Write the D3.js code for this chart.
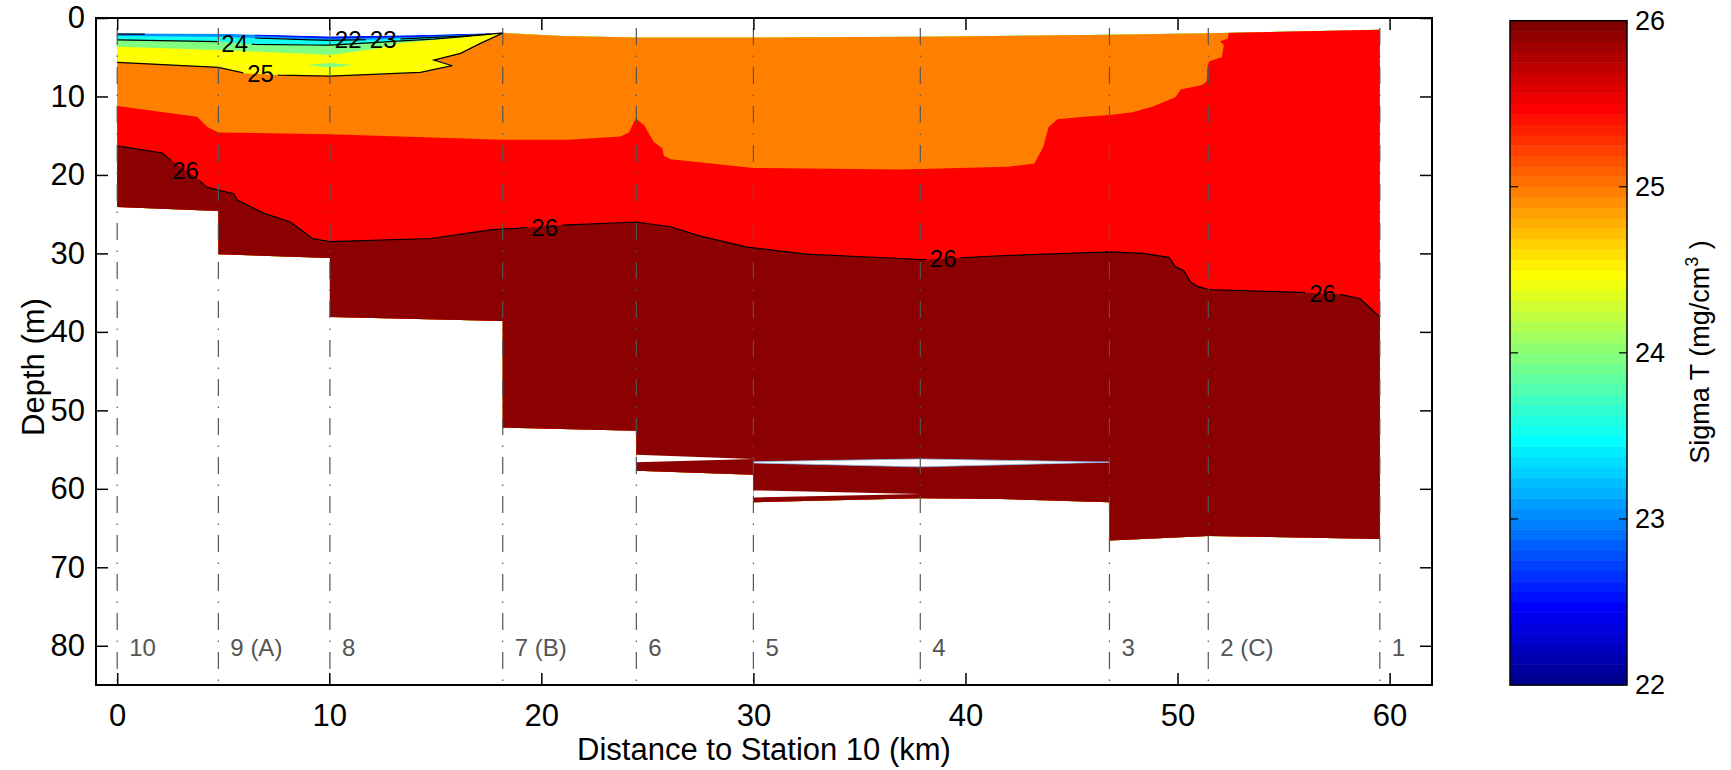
<!DOCTYPE html>
<html><head><meta charset="utf-8">
<script src="https://cdn.jsdelivr.net/npm/d3@7"></script>
<style>
body{margin:0;background:#fff;}
svg{display:block;}
text{font-family:"Liberation Sans",Arial,Helvetica,sans-serif;}
</style>
</head><body>
<svg id="c" width="1731" height="770"></svg>
<script>
// ---------------- DATA ----------------
const stationKm    = [0, 4.77, 10.03, 18.18, 24.48, 30.0, 37.87, 46.79, 51.45, 59.54];
const stationNames = ["10", "9 (A)", "8", "7 (B)", "6", "5", "4", "3", "2 (C)", "1"];
const xTicks  = [0, 10, 20, 30, 40, 50, 60];
const yTicks  = [0, 10, 20, 30, 40, 50, 60, 70, 80];
const cbTicks = [22, 23, 24, 25, 26];

// sea surface (top of data), left -> right  [km, depth m]
const surfaceTop = [[0,1.95],[4.77,2.0],[10.03,2.35],[14,2.2],[18.18,1.9],[21,2.3],[24.48,2.5],[30,2.5],[37.87,2.4],[46.79,2.15],[51.45,1.95],[59.54,1.5]];
// deepest sample per station (bottom of data), right -> left
const seabed = [[59.54,66.4],[51.45,66.0],[46.79,66.6],[46.79,61.7],[41.67,61.3],[37.87,61.2],[30,61.7],[30,58.2],[24.48,57.7],[24.48,52.6],[18.18,52.2],[18.18,38.6],[10.03,38.1],[10.03,30.6],[4.77,30.1],[4.77,24.6],[0,24.1]];

// isopycnals (sigma-T boundaries)
const iso235 = [[0,2.3],[4.77,2.4],[9.12,2.75],[10.03,2.85],[12.3,2.75],[13.2,2.6],[14.9,2.45],[16.2,2.3],[18.2,1.9]];
const iso24  = [[0,2.8],[4.77,3.0],[6.45,3.36],[9.12,3.44],[10.03,3.45],[12.3,3.1],[13.2,2.95],[14.9,2.7],[16.2,2.4],[18.2,1.9]];
const iso245 = [[0,3.66],[4.77,4.08],[9.12,4.6],[10.03,4.72],[12.3,3.9],[13.2,3.25],[14.9,2.8],[16.2,2.45],[18.2,1.9]];
const iso25  = [[0,5.65],[4.77,6.29],[6.05,7.06],[7.62,7.27],[10.03,7.4],[14.3,6.93],[15.8,6.08],[14.93,5.36],[16.19,4.5],[17.13,3.23],[18.2,1.9]];
const iso255 = [[0,11.2],[3.77,12.6],[4.25,13.9],[4.77,14.6],[10.03,14.8],[18.18,15.5],[21.3,15.5],[23.74,15.1],[24.13,14.6],[24.45,12.8],[24.84,13.65],[25.3,15.8],[25.7,16.6],[25.78,17.6],[26.1,18.0],[30,19.1],[36.95,19.3],[37.87,19.25],[41.98,18.96],[43.25,18.54],[43.67,16.4],[43.92,13.9],[44.34,12.9],[45.6,12.6],[46.79,12.37],[47.88,12.0],[48.8,11.3],[49.9,10.1],[50.15,9.1],[51.16,8.55],[51.37,8.1],[51.42,6.0],[51.5,5.5],[52.09,5.0],[52.18,3.44],[52.0,3.0],[52.37,2.6],[52.42,1.8]];
const iso26  = [[0,16.3],[2.12,17.2],[2.51,18.1],[3.77,20.4],[4.17,21.5],[4.72,21.9],[5.5,22.4],[5.66,23.2],[6.92,24.9],[8.17,26.0],[9.2,28.1],[10.03,28.5],[14.78,28.1],[17.6,27.0],[19.4,26.7],[21.0,26.4],[24.48,26.0],[26.1,26.6],[27.36,27.7],[29.7,29.2],[32.5,30.1],[36.95,30.65],[37.9,30.8],[41.67,30.3],[46.79,29.8],[48.4,30.0],[49.6,30.5],[49.9,31.7],[50.3,32.2],[50.6,33.6],[50.94,34.2],[51.45,34.6],[56.1,35.0],[57.7,35.25],[58.6,35.75],[59.54,38.1]];
const line23  = [[6.5,2.55],[9.12,2.78],[10.03,2.85],[13.2,2.68],[16.2,2.3],[17.6,2.05]];
const line22  = [[0,2.05],[1.3,2.05]];
const sliver225 = [[6.5,2.1],[10.03,2.35],[14,2.2],[17.5,1.95],[17.5,2.02],[14,2.42],[10.03,2.6],[6.5,2.25]];
const patch24   = [[8.96,6.0],[10.03,5.75],[11.16,6.0],[10.03,6.3]];
// no-data slivers between interpolated casts
const gapA = [[24.48,55.65],[30,56.2],[24.48,56.6]];
const gapB = [[30,56.55],[37.87,56.2],[46.79,56.6],[37.87,57.2],[30,56.7]];
const gapC = [[30,60.2],[37.87,60.65],[30,61.1]];

const contourLabelText  = ["24", "25", "22", "23", "26", "26", "26", "26"];
const contourLabelKm    = [5.54, 6.76, 10.89, 12.54, 3.22, 20.16, 38.95, 56.84];
const contourLabelDepth = [3.3, 7.1, 2.7, 2.7, 19.4, 26.7, 30.6, 35.1];

// fill colours per sigma-T band (MATLAB jet levels)
const bandColor = {b225:"#0010ff", b23:"#008fff", b235:"#10ffef", b24:"#80ff80", b245:"#ffff00", b25:"#ff8000", b255:"#ff0000", b26:"#8b0000"};

// ---------------- DRAW ----------------
const svg = d3.select("#c");
const W = 1731, H = 770;
const x = d3.scaleLinear().domain([-1, 62]).range([96, 1432]);
const y = d3.scaleLinear().domain([0, 85]).range([18, 685]);
const line = d3.line().x(d => x(d[0])).y(d => y(d[1]));
const defs = svg.append("defs");

const outline = surfaceTop.concat(seabed);
defs.append("clipPath").attr("id", "dataClip").append("path").attr("d", line(outline) + "Z");

function below(pts) {
  const first = pts[0], last = pts[pts.length - 1];
  const endD = last[1] < 6 ? -1 : last[1];
  return pts.concat([[62, endD], [62, 90], [-1, 90], [-1, first[1]]]);
}

const fills = svg.append("g").attr("clip-path", "url(#dataClip)");
fills.append("path").attr("d", line(outline) + "Z").attr("fill", bandColor.b23);
fills.append("path").attr("d", line(sliver225) + "Z").attr("fill", bandColor.b225);
const layerDefs = [[iso235, bandColor.b235], [iso24, bandColor.b24], [iso245, bandColor.b245]];
layerDefs.forEach(([p, c]) => fills.append("path").attr("d", line(below(p)) + "Z").attr("fill", c));
fills.append("path").attr("d", line(patch24) + "Z").attr("fill", bandColor.b24);
[[iso25, bandColor.b25], [iso255, bandColor.b255], [iso26, bandColor.b26]]
  .forEach(([p, c]) => fills.append("path").attr("d", line(below(p)) + "Z").attr("fill", c));

// gaps
[gapA, gapC].forEach(g => svg.append("path").attr("d", line(g) + "Z").attr("fill", "#fff"));
svg.append("path").attr("d", line(gapB) + "Z").attr("fill", "#fff").attr("stroke", "#8cc4ff").attr("stroke-width", 0.8);

// contour lines with label breaks
const labelFont = 24;
const contourSets = [["22", [line22]], ["23", [line23]], ["24", [iso24]], ["25", [iso25]], ["26", [iso26]]];
contourSets.forEach(([lev, arr]) => {
  const m = defs.append("mask").attr("id", "m" + lev).attr("maskUnits", "userSpaceOnUse")
    .attr("x", 0).attr("y", 0).attr("width", W).attr("height", H);
  m.append("rect").attr("width", W).attr("height", H).attr("fill", "#fff");
  contourLabelText.forEach((t, i) => {
    if (t !== lev) return;
    const w = t.length * 0.556 * labelFont + 8;
    m.append("rect").attr("x", x(contourLabelKm[i]) - w / 2).attr("y", y(contourLabelDepth[i]) - 10)
      .attr("width", w).attr("height", 20).attr("fill", "#000");
  });
  arr.forEach(p => svg.append("path").attr("d", line(p)).attr("fill", "none")
    .attr("stroke", "#000").attr("stroke-width", 1.2).attr("mask", "url(#m" + lev + ")"));
});
svg.append("g").selectAll("text").data(contourLabelText).join("text")
  .attr("x", (d, i) => x(contourLabelKm[i])).attr("y", (d, i) => y(contourLabelDepth[i]))
  .attr("dy", "0.35em").attr("text-anchor", "middle").attr("font-size", labelFont).attr("fill", "#000")
  .text(d => d);

// station lines + labels
svg.append("g").selectAll("line").data(stationKm).join("line")
  .attr("x1", d => x(d)).attr("x2", d => x(d)).attr("y1", y(0)).attr("y2", y(85))
  .attr("stroke", "#555").attr("stroke-width", 1.2)
  .attr("stroke-dasharray", "17,10.5,1.5,10").attr("stroke-dashoffset", 29);
svg.append("g").selectAll("text").data(stationNames).join("text")
  .attr("x", (d, i) => x(stationKm[i]) + 12).attr("y", y(80.2)).attr("dy", "0.35em")
  .attr("font-size", 24).attr("fill", "#555").text(d => d);

// axes
const tickFont = 31;
const gx = svg.append("g").attr("transform", `translate(0,${y(85)})`)
  .call(d3.axisBottom(x).tickValues(xTicks).tickSizeInner(-12).tickSizeOuter(0).tickPadding(19));
const gxt = svg.append("g").attr("transform", `translate(0,${y(0)})`)
  .call(d3.axisTop(x).tickValues(xTicks).tickSizeInner(-12).tickSizeOuter(0).tickFormat(""));
const gy = svg.append("g").attr("transform", `translate(${x(-1)},0)`)
  .call(d3.axisLeft(y).tickValues(yTicks).tickSizeInner(-12).tickSizeOuter(0).tickPadding(11));
const gyr = svg.append("g").attr("transform", `translate(${x(62)},0)`)
  .call(d3.axisRight(y).tickValues(yTicks).tickSizeInner(-12).tickSizeOuter(0).tickFormat(""));
[gx, gxt, gy, gyr].forEach(g => {
  g.select(".domain").remove();
  g.selectAll(".tick line").attr("stroke", "#000").attr("stroke-width", 1.5);
  g.selectAll("text").attr("font-size", tickFont).attr("fill", "#000")
    .attr("font-family", '"Liberation Sans",Arial,sans-serif');
});
svg.append("rect").attr("x", x(-1)).attr("y", y(0)).attr("width", x(62) - x(-1)).attr("height", y(85) - y(0))
  .attr("fill", "none").attr("stroke", "#000").attr("stroke-width", 2);

svg.append("text").attr("x", (x(-1) + x(62)) / 2 + 0).attr("y", 760).attr("text-anchor", "middle")
  .attr("font-size", 31).text("Distance to Station 10 (km)");
svg.append("text").attr("transform", "translate(33,367) rotate(-90)").attr("dy", "0.35em")
  .attr("text-anchor", "middle").attr("font-size", 31).text("Depth (m)");

// colorbar
const cbX = 1510, cbW = 117;
const cbY = d3.scaleLinear().domain([22, 26]).range([685, 20.7]);
const jet = d3.scaleLinear().domain([0, 7, 23, 39, 55, 63])
  .range(["#00008f", "#0000ff", "#00ffff", "#ffff00", "#ff0000", "#800000"]);
const steps = d3.range(64);
svg.append("g").selectAll("rect").data(steps).join("rect")
  .attr("x", cbX).attr("width", cbW)
  .attr("y", i => cbY(22 + 4 * (i + 1) / 64)).attr("height", i => cbY(22 + 4 * i / 64) - cbY(22 + 4 * (i + 1) / 64) + 0.5)
  .attr("fill", i => jet(i));
svg.append("rect").attr("x", cbX).attr("y", cbY(26)).attr("width", cbW).attr("height", cbY(22) - cbY(26))
  .attr("fill", "none").attr("stroke", "#000").attr("stroke-width", 1.5);
const gcb = svg.append("g").attr("transform", `translate(${cbX + cbW},0)`)
  .call(d3.axisRight(cbY).tickValues(cbTicks).tickFormat(d3.format("d")).tickSize(0).tickPadding(8));
gcb.select(".domain").remove();
gcb.selectAll("text").attr("font-size", 27).attr("fill", "#000").attr("font-family", '"Liberation Sans",Arial,sans-serif');
svg.append("g").selectAll("line").data(cbTicks.slice(1, -1)).join("line")
  .attr("x1", cbX).attr("x2", cbX + 8).attr("y1", d => cbY(d)).attr("y2", d => cbY(d))
  .attr("stroke", "#000").attr("stroke-width", 1.2);
svg.append("g").selectAll("line").data(cbTicks.slice(1, -1)).join("line")
  .attr("x1", cbX + cbW - 8).attr("x2", cbX + cbW).attr("y1", d => cbY(d)).attr("y2", d => cbY(d))
  .attr("stroke", "#000").attr("stroke-width", 1.2);
const cbt = svg.append("text").attr("transform", "translate(1709,352) rotate(-90)")
  .attr("text-anchor", "middle").attr("font-size", 27);
cbt.append("tspan").text("Sigma T (mg/cm");
cbt.append("tspan").attr("dy", -11).attr("font-size", 18).text("3");
cbt.append("tspan").attr("dy", 11).text(" )");
</script>
</body></html>
